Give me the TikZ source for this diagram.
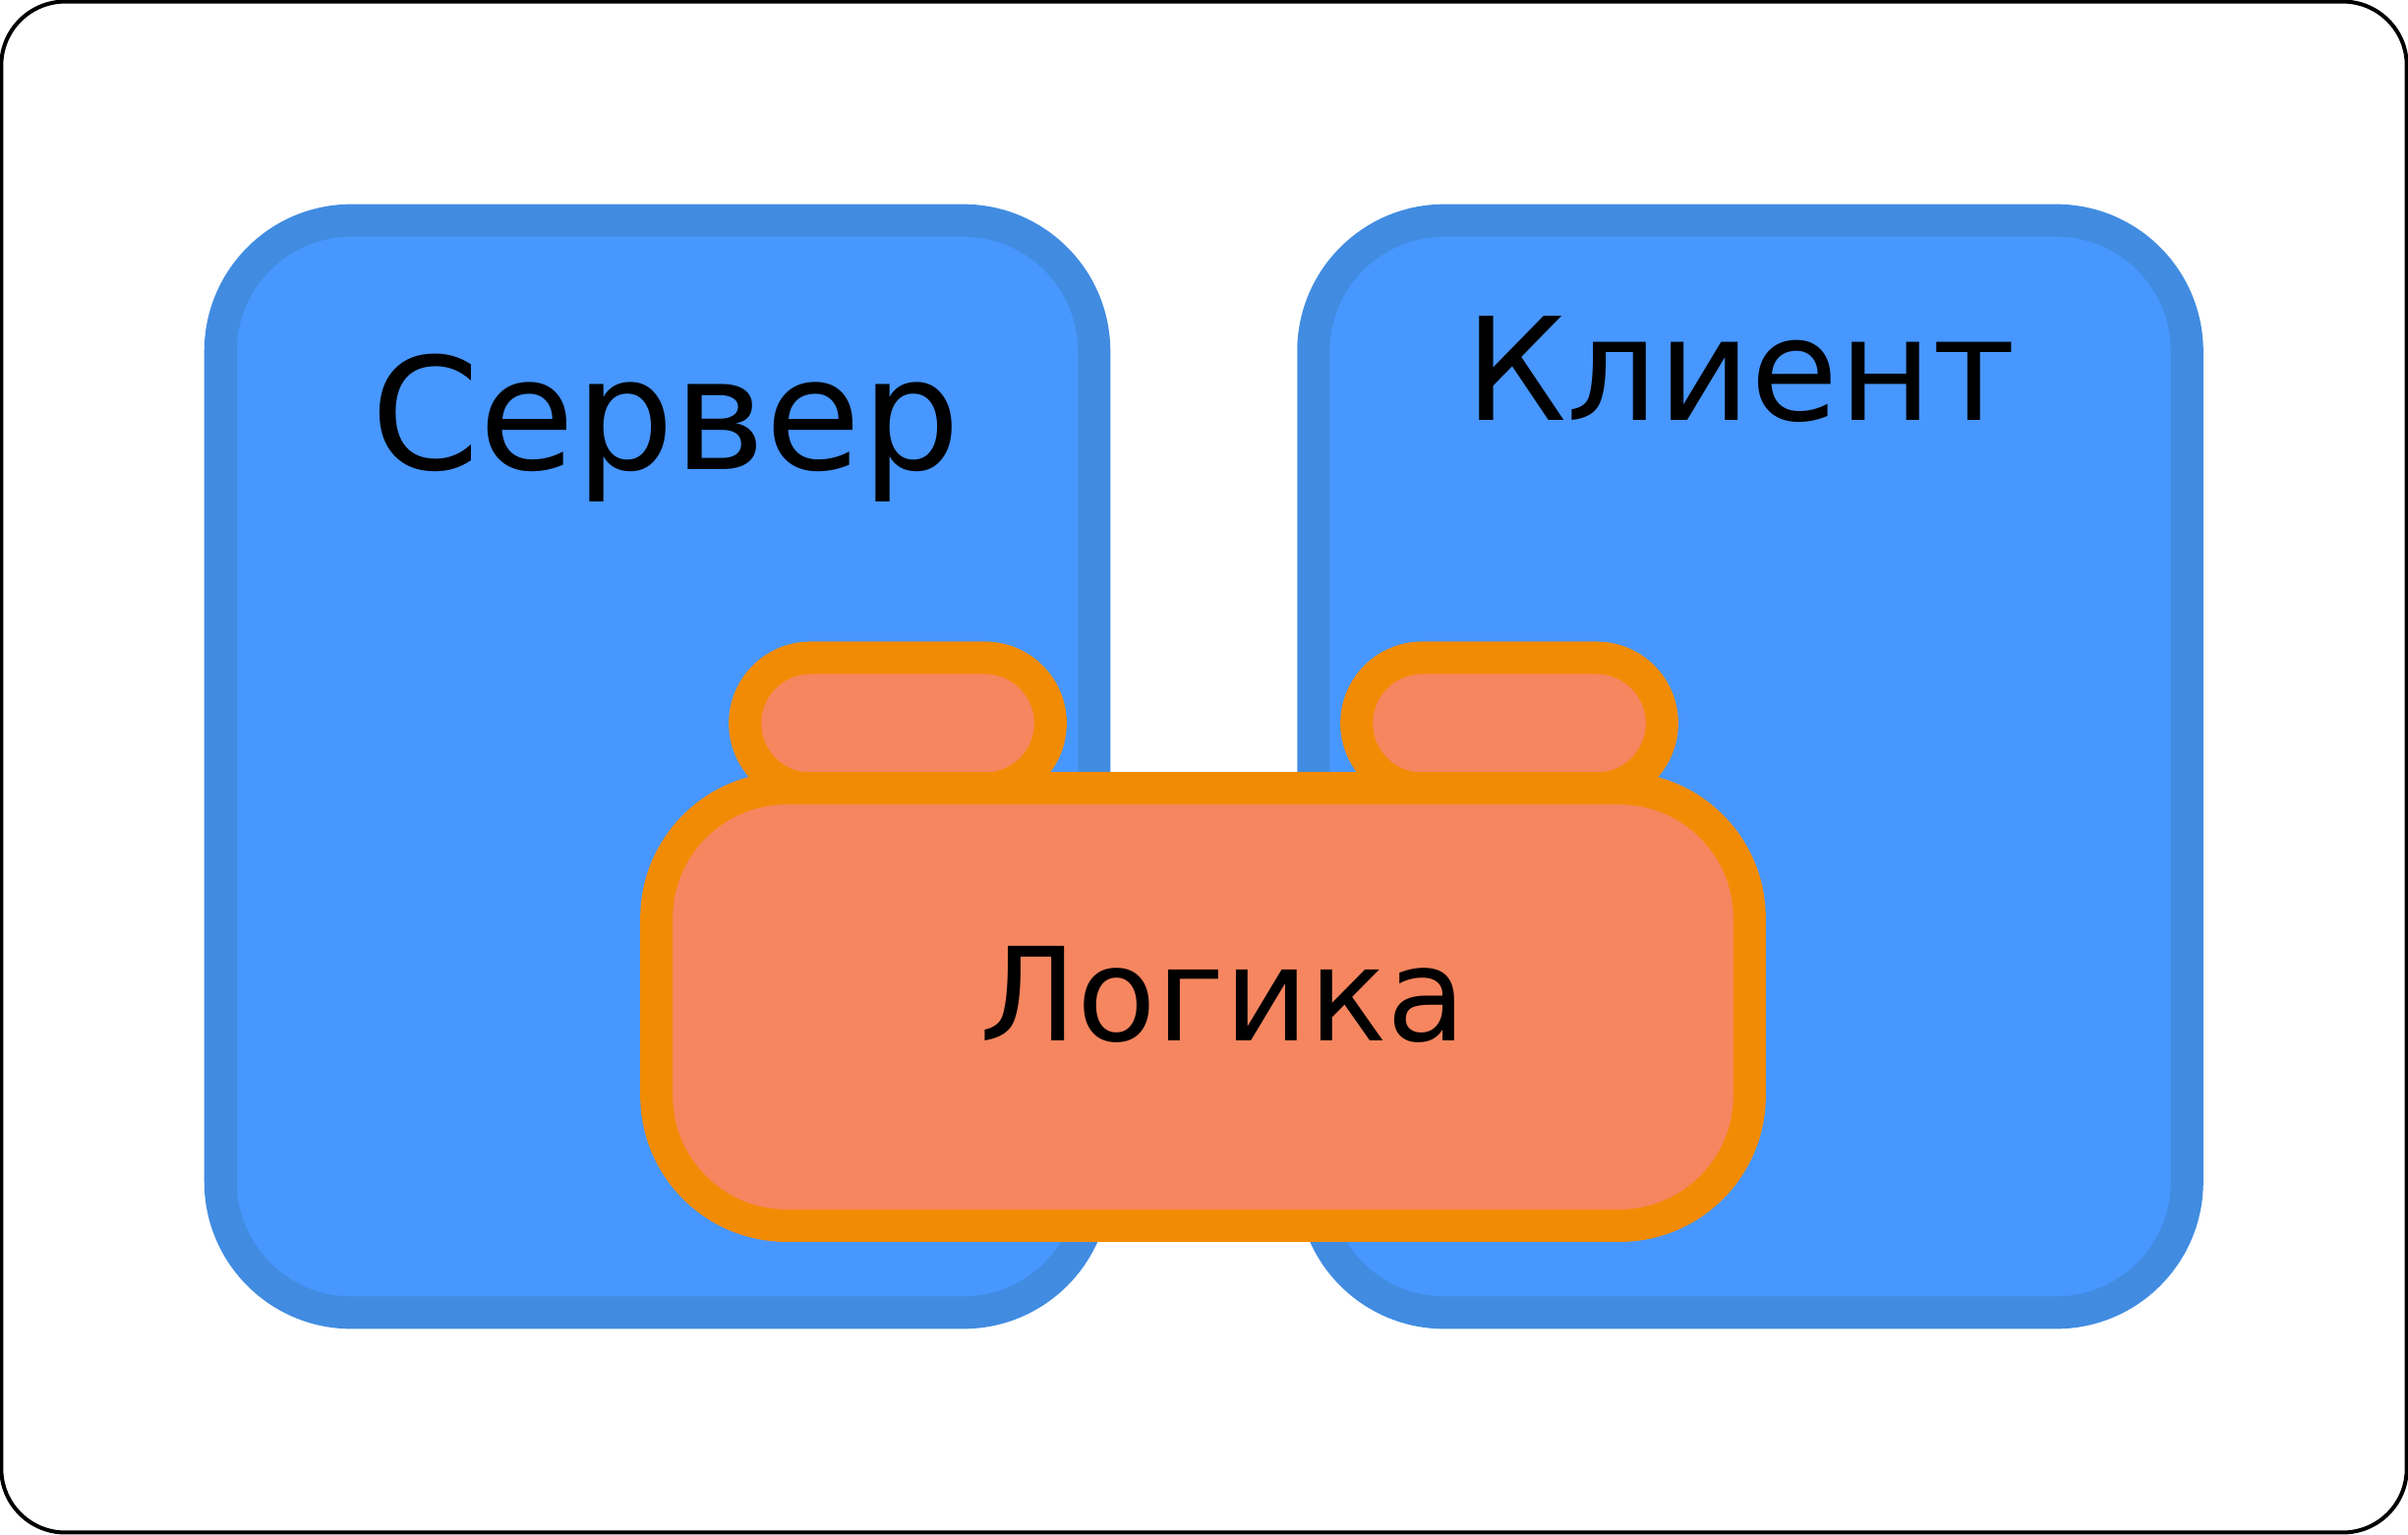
\documentclass[tikz,border=0pt]{standalone}
\usepackage{fontspec}
\setmainfont{DejaVu Sans}
\definecolor{tierfill}{HTML}{4797FF}
\definecolor{tierdraw}{HTML}{418CE1}
\definecolor{logicfill}{HTML}{F68660}
\definecolor{logicdraw}{HTML}{F28B04}

\begin{document}
\begin{tikzpicture}[x=0.01cm,y=-0.01cm]
    \pgfmathsetmacro{\tierw}{8.88}
    \pgfmathsetmacro{\tierh}{11.1}
    \pgfmathsetmacro{\tabw}{3.105}
    \tikzset{tier/.style={draw=tierdraw,fill=tierfill,line width=0.33cm,rounded corners=1.33cm,minimum width=\tierw cm,minimum height=\tierh cm,inner sep=0pt},
             logicpart/.style={draw=logicdraw,fill=logicfill,line width=0.33cm,inner sep=0pt},
             caption/.style={anchor=base,inner sep=0pt}}
    \useasboundingbox (0,0) rectangle (2449,1560);
    \node[draw,line width=0.04cm,rounded corners=0.65cm,minimum width=24.45cm,minimum height=15.56cm,inner sep=0pt] (frame) at (1224.5,780) {};
    \node[tier] (server) at (668.5,779.5) {};
\node[tier] (client) at (1780,779.5) {};
\node[logicpart,rounded corners=0.665cm,minimum width=\tabw cm,minimum height=1.33cm] (servertab) at (913,735.5) {};
\node[logicpart,rounded corners=0.665cm,minimum width=\tabw cm,minimum height=1.33cm] (clienttab) at (1535,735.5) {};
\node[logicpart,rounded corners=1.32cm,minimum width=11.11cm,minimum height=4.445cm] (logic) at (1223.5,1024) {};
\node[caption,font=\fontsize{45}{54}\selectfont] (serverlabel) at (677,477) {Сервер};
\node[caption,font=\fontsize{41.3}{50}\selectfont] (clientlabel) at (1770,427) {Клиент};
\node[caption,font=\fontsize{37.5}{45}\selectfont] (logiclabel) at (1244,1058) {Логика};

\end{tikzpicture}
\end{document}
